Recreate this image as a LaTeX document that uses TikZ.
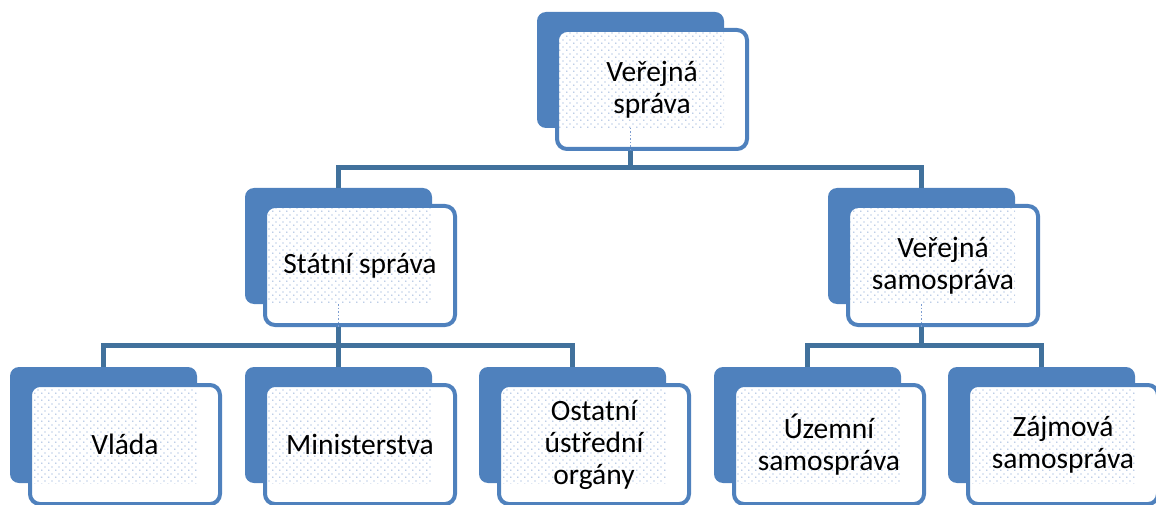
\documentclass[tikz,border=0pt]{standalone}
\usepackage{fontspec}
\setmainfont{Carlito}
\usetikzlibrary{positioning,patterns}
\definecolor{boxblue}{HTML}{4F81BD}
\definecolor{linkblue}{HTML}{41719C}
\definecolor{dotblue}{HTML}{7C9CD0}
\pgfdeclarepatternformonly{sparse dots}{\pgfqpoint{-1pt}{-1pt}}{\pgfqpoint{6pt}{6pt}}{\pgfqpoint{7pt}{7pt}}{
    \pgfpathcircle{\pgfqpoint{0pt}{0pt}}{.75pt}
    \pgfpathcircle{\pgfqpoint{3.5pt}{3.5pt}}{.75pt}
    \pgfusepath{fill}}
\begin{document}
\begin{tikzpicture}[x=1pt, y=-1pt,
    back/.style={fill=boxblue, rounded corners=9pt, minimum width=187pt, minimum height=116pt,
        inner sep=0pt, outer sep=0pt, anchor=north west},
    front/.style={draw=boxblue, line width=4pt, fill=white, rounded corners=10pt,
        minimum width=190pt, minimum height=119pt, inner sep=2pt, align=center,
        font=\fontsize{29.5}{32}\selectfont, below right=16pt and 18pt of #1.north west,
        path picture={\fill[sharp corners, pattern=sparse dots, pattern color=dotblue]
            (path picture bounding box.north west) rectangle ([shift={(-23,-21)}]path picture bounding box.south east);}},
    link/.style={draw=linkblue, line width=5pt},
    seam/.style={dotblue, line width=1.5pt, dotted}]
    \useasboundingbox (0,0) rectangle (1156,505);
    \node[back] (vsb) at (537,12) {};
    \node[front=vsb] (vs) {Veřejná\\správa};
    \node[back] (ssb) at (245,188) {};
    \node[front=ssb] (ss) {Státní správa};
    \node[back] (vrb) at (828,188) {};
    \node[front=vrb] (vr) {Veřejná\\samospráva};
    \node[back] (vlb) at (10,367) {};
    \node[front=vlb] (vl) {Vláda};
    \node[back] (mib) at (245,367) {};
    \node[front=mib] (mi) {Ministerstva};
    \node[back] (oub) at (479,367) {};
    \node[front=oub] (ou) {Ostatní\\ústřední\\orgány};
    \node[back] (usb) at (714,367) {};
    \node[front=usb] (us) {Územní\\samospráva};
    \node[back] (zsb) at (948,367) {};
    \node[front=zsb] (zs) {Zájmová\\samospráva};
    \draw[seam] (vsb.south) -- (vsb.south |- vs.south);
    \draw[seam] (ssb.south) -- (ssb.south |- ss.south);
    \draw[seam] (vrb.south) -- (vrb.south |- vr.south);
    \draw[link] (vsb.south |- vs.south) -- ++(0,17);
    \draw[link] (ssb.north) -- ++(0,-20) -| (vrb.north);
    \draw[link] (ssb.south |- ss.south) -- ++(0,18);
    \draw[link] (vlb.north) -- ++(0,-22) -| (oub.north);
    \draw[link] (mib.north) -- ++(0,-22);
    \draw[link] (vrb.south |- vr.south) -- ++(0,18);
    \draw[link] (usb.north) -- ++(0,-22) -| (zsb.north);
\end{tikzpicture}
\end{document}
